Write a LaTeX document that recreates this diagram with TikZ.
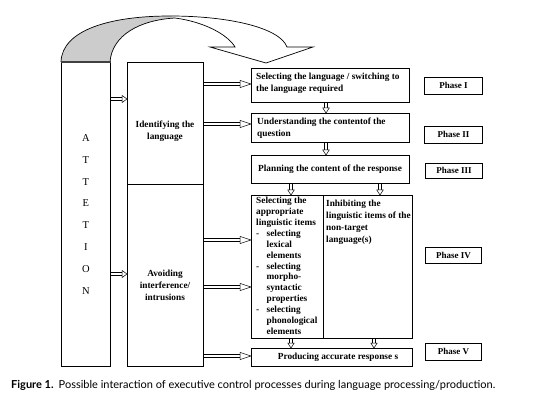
\documentclass[tikz,border=0pt]{standalone}
\usepackage{fontspec}
\setmainfont{Liberation Serif}
\newfontfamily\capfont{Lato}
\usetikzlibrary{decorations.markings,calc}
\tikzset{
  box/.style={draw, line width=0.8pt, inner sep=0pt, anchor=north west},
  phase/.style={draw, line width=0.8pt, inner sep=0pt, anchor=north west, font=\fontsize{9}{10}\selectfont\bfseries},
  lbl/.style={font=\fontsize{9.3}{12}\selectfont\bfseries, inner sep=0pt, align=left},
  arrowbase/.style n args={3}{postaction={draw, double=white, double distance=2.2pt, line width=0.45pt, shorten >=#1},
    postaction={decorate, decoration={markings, mark=at position 1 with {\draw[fill=white, line width=0.5pt, line join=miter] (0,0) -- (-#2,#3) -- (-#2,-#3) -- cycle;}}}},
  larr/.style={arrowbase={9pt}{11pt}{3.6pt}},
  sarr/.style={arrowbase={4pt}{5pt}{3.6pt}},
  varr/.style={arrowbase={4pt}{5pt}{3.2pt}},
}
\begin{document}
\begin{tikzpicture}[x=1pt,y=-1pt]
\useasboundingbox[fill=white] (0,0) rectangle (537,419);
% curved arrow
\fill[black!20] (61,62) .. controls (62,30) and (110,16) .. (170,16) -- (175,18) .. controls (140,20) and (112,35) .. (110,62) -- cycle;
\draw[line width=0.7pt] (61,62) .. controls (62,30) and (110,16) .. (170,16) .. controls (230,16) and (280,28) .. (287,47) -- (313,47) -- (266,63) -- (210,47) -- (235,47) .. controls (228,35) and (205,22) .. (175,18) .. controls (140,20) and (112,35) .. (110,62);
% left column
\node[box, minimum width=49pt, minimum height=304pt, align=center, font=\fontsize{10.5}{21.8}\selectfont] (attn) at (61,62) {A\\T\\T\\E\\T\\I\\O\\N};
\draw[line width=1.2pt, black!75] (attn.north west) -- (attn.north east);
\node[box, minimum width=76pt, minimum height=122pt] (id) at (127,62) {};
\node[box, minimum width=76pt, minimum height=182pt] (avoid) at (127,184) {};
\node[lbl, align=center] (idtxt) at (165,131) {Identifying the\\language};
\node[lbl, align=center] (avtxt) at (165,285) {Avoiding\\interference/\\intrusions};
% right boxes
\node[box, minimum width=158pt, minimum height=34pt] (sel) at (251,68) {};
\node[box, minimum width=158pt, minimum height=29pt] (und) at (251,113) {};
\node[box, minimum width=158pt, minimum height=28pt] (plan) at (251,155) {};
\node[box, minimum width=161pt, minimum height=143pt] (iv) at (251,195) {};
\node[box, minimum width=161pt, minimum height=18pt] (prod) at (251,348) {};
\draw[line width=0.8pt] (iv.north -| 323,0) -- (iv.south -| 323,0);
\node[lbl, anchor=west] (t1) at (256,83) {Selecting the language / switching to\\the language required};
\node[lbl, anchor=west] (t2) at (257,128.5) {Understanding the contentof the\\question};
\node[lbl, anchor=west] (t3) at (258,169) {Planning the content of the response};
\node[lbl, anchor=north west, font=\fontsize{9.3}{10.9}\selectfont\bfseries] (t4a) at (256,197) {Selecting the\\appropriate\\linguistic items\\\makebox[10.5pt][l]{-}selecting\\\hspace*{10.5pt}lexical\\\hspace*{10.5pt}elements\\\makebox[10.5pt][l]{-}selecting\\\hspace*{10.5pt}morpho-\\\hspace*{10.5pt}syntactic\\\hspace*{10.5pt}properties\\\makebox[10.5pt][l]{-}selecting\\\hspace*{10.5pt}phonological\\\hspace*{10.5pt}elements};
\node[lbl, anchor=north west] (t4b) at (326,200) {Inhibiting the\\linguistic items of the\\non-target\\language(s)};
\node[lbl] (t5) at (338,357.5) {Producing accurate response s};
% phases
\node[phase, minimum width=58pt, minimum height=17pt] (p1) at (424,77) {Phase I};
\node[phase, minimum width=58pt, minimum height=17pt] (p2) at (424,126) {Phase II};
\node[phase, minimum width=57pt, minimum height=15pt] (p3) at (425,163) {Phase III};
\node[phase, minimum width=56pt, minimum height=16pt] (p4) at (425,247) {Phase IV};
\node[phase, minimum width=56pt, minimum height=17pt] (p5) at (425,343) {Phase V};
% arrows
\path[sarr] (attn.east |- 0,99) -- (id.west |- 0,99);
\path[sarr] (attn.east |- 0,274) -- (avoid.west |- 0,274);
\path[larr] (id.east |- 0,84) -- (sel.west |- 0,84);
\path[larr] (id.east |- 0,124) -- (und.west |- 0,124);
\path[larr] (avoid.east |- 0,240) -- (iv.west |- 0,240);
\path[larr] (avoid.east |- 0,287) -- (iv.west |- 0,287);
\path[larr] (avoid.east |- 0,356) -- (prod.west |- 0,356);
\path[varr] (sel.south -| 326,0) -- (und.north -| 326,0);
\path[varr] (und.south -| 326,0) -- (plan.north -| 326,0);
\path[varr] (plan.south -| 291,0) -- (iv.north -| 291,0);
\path[varr] (plan.south -| 380,0) -- (iv.north -| 380,0);
\path[varr] (iv.south -| 291,0) -- (prod.north -| 291,0);
\path[varr] (iv.south -| 374,0) -- (prod.north -| 374,0);
% caption
\node[anchor=west, inner sep=0pt, font=\capfont\fontsize{11}{13}\selectfont] (cap) at (11,385) {\textbf{Figure 1.}\hspace{5pt}Possible interaction of executive control processes during language processing/production.};
\end{tikzpicture}
\end{document}
